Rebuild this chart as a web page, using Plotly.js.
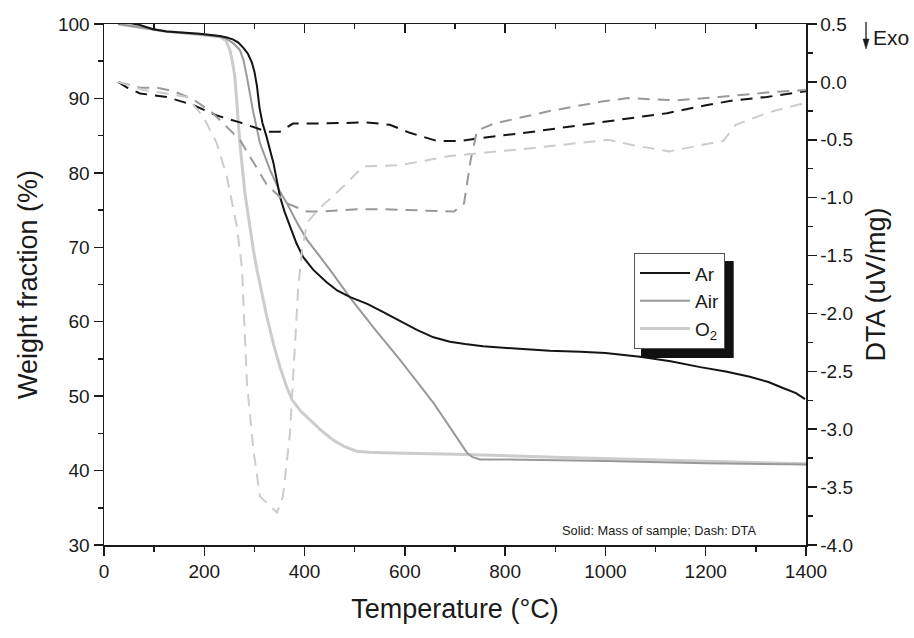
<!DOCTYPE html>
<html>
<head>
<meta charset="utf-8">
<script src="https://cdn.plot.ly/plotly-3.0.1.min.js"></script>
<style>html,body{margin:0;padding:0;background:#fff;}#chart{width:914px;height:638px;}</style>
</head>
<body>
<div id="chart"></div>
<script>
// ---- Data ----
const seriesNames = ["Ar", "Air", "O<sub>2</sub>"];

// Solid: mass of sample (weight fraction %)
const arMassT = [28, 46, 70, 98, 125, 191, 231, 245, 258, 268, 278, 287, 295, 300, 305, 310, 316, 324, 338, 351, 360, 371, 384, 397, 417, 444, 465, 491, 525, 557, 590, 624, 657, 690, 720, 756, 820, 889, 950, 1000, 1069, 1130, 1189, 1240, 1288, 1325, 1354, 1380, 1398];
const arMassW = [100.1, 100.2, 99.9, 99.3, 99.0, 98.7, 98.4, 98.2, 97.9, 97.5, 96.8, 96.0, 94.8, 93.6, 91.7, 88.8, 86.7, 84.9, 81.3, 76.8, 74.8, 72.7, 70.5, 68.7, 67.0, 65.3, 64.2, 63.3, 62.4, 61.3, 60.1, 58.9, 57.9, 57.3, 57.0, 56.7, 56.4, 56.1, 55.95, 55.8, 55.3, 54.7, 53.9, 53.3, 52.6, 51.9, 51.1, 50.4, 49.6];

const airMassT = [28, 70, 125, 191, 230, 245, 258, 271, 278, 285, 297, 311, 331, 350, 365, 385, 405, 430, 457, 491, 540, 590, 624, 657, 690, 724, 735, 750, 800, 900, 1000, 1200, 1400];
const airMassW = [100.0, 99.6, 99.0, 98.6, 98.3, 98.0, 97.4, 96.5, 95.2, 92.9, 88.4, 84.0, 80.4, 77.6, 75.9, 73.3, 71.0, 68.8, 66.4, 63.2, 59.0, 54.9, 52.0, 49.1, 45.8, 42.4, 41.8, 41.5, 41.5, 41.4, 41.3, 41.0, 40.8];

const o2MassT = [28, 70, 125, 191, 231, 243, 251, 256, 261, 266, 271, 281, 291, 298, 305, 315, 325, 338, 351, 363, 375, 392, 411, 433, 457, 480, 504, 530, 557, 700, 900, 1100, 1400];
const o2MassW = [100.0, 99.6, 99.0, 98.6, 98.3, 97.8, 96.5, 95.0, 92.9, 88.5, 84.0, 77.3, 72.7, 69.6, 67.0, 63.7, 60.6, 57.0, 53.9, 51.5, 49.5, 48.0, 46.8, 45.4, 44.1, 43.2, 42.6, 42.45, 42.4, 42.2, 41.8, 41.4, 40.9];

// Dash: DTA (uV/mg)
const arDtaT = [28, 46, 72, 125, 178, 225, 271, 325, 351, 377, 424, 524, 570, 610, 664, 710, 744, 856, 989, 1123, 1203, 1255, 1322, 1400];
const arDtaV = [0.0, -0.05, -0.10, -0.13, -0.20, -0.29, -0.35, -0.43, -0.43, -0.36, -0.36, -0.35, -0.37, -0.44, -0.51, -0.51, -0.49, -0.43, -0.35, -0.27, -0.20, -0.16, -0.13, -0.08];

const airDtaT = [28, 72, 106, 138, 178, 217, 271, 325, 365, 405, 431, 505, 557, 677, 698, 718, 731, 744, 778, 891, 993, 1045, 1140, 1226, 1328, 1400];
const airDtaV = [0.0, -0.05, -0.05, -0.08, -0.15, -0.27, -0.50, -0.89, -1.05, -1.12, -1.12, -1.10, -1.10, -1.12, -1.12, -1.05, -0.68, -0.42, -0.36, -0.25, -0.17, -0.14, -0.16, -0.13, -0.09, -0.07];

const o2DtaT = [28, 78, 125, 165, 198, 225, 245, 265, 275, 285, 298, 311, 345, 357, 371, 381, 387, 395, 405, 425, 471, 517, 590, 690, 858, 1005, 1059, 1127, 1235, 1260, 1328, 1400];
const o2DtaV = [0.0, -0.07, -0.10, -0.13, -0.30, -0.53, -0.82, -1.25, -1.60, -2.60, -3.18, -3.58, -3.72, -3.58, -3.03, -2.32, -1.80, -1.45, -1.22, -1.11, -0.93, -0.73, -0.72, -0.64, -0.57, -0.50, -0.55, -0.60, -0.51, -0.37, -0.26, -0.18];

const xTickVals = [0, 200, 400, 600, 800, 1000, 1200, 1400];
const yTickVals = [30, 40, 50, 60, 70, 80, 90, 100];
const y2TickVals = [-4.0, -3.5, -3.0, -2.5, -2.0, -1.5, -1.0, -0.5, 0.0, 0.5];
const y2TickText = ["-4.0", "-3.5", "-3.0", "-2.5", "-2.0", "-1.5", "-1.0", "-0.5", "0.0", "0.5"];

// ---- Styles ----
const FONT = "Liberation Sans, Arial, Helvetica, sans-serif";
const INK = "#1a1a1a";
const cAr = "#141414", cAir = "#999999", cO2 = "#cccccc";
const dashPat = "12px,8px";

const traces = [
  {x: arDtaT, y: arDtaV, xaxis: "x2", yaxis: "y2", mode: "lines", showlegend: false, hoverinfo: "skip",
   line: {color: cAr, width: 2, dash: dashPat}},
  {x: airDtaT, y: airDtaV, xaxis: "x2", yaxis: "y2", mode: "lines", showlegend: false, hoverinfo: "skip",
   line: {color: cAir, width: 2, dash: dashPat}},
  {x: o2DtaT, y: o2DtaV, xaxis: "x2", yaxis: "y2", mode: "lines", showlegend: false, hoverinfo: "skip",
   line: {color: cO2, width: 2, dash: dashPat}},
  {x: o2MassT, y: o2MassW, name: seriesNames[2], mode: "lines", line: {color: cO2, width: 3}},
  {x: airMassT, y: airMassW, name: seriesNames[1], mode: "lines", line: {color: cAir, width: 2}},
  {x: arMassT, y: arMassW, name: seriesNames[0], mode: "lines", line: {color: cAr, width: 2}}
];

const axisCommon = {
  showgrid: false, zeroline: false, showline: true, linecolor: INK, linewidth: 1.5,
  tickcolor: INK, tickwidth: 1.5, ticklen: 9,
  tickfont: {family: FONT, size: 19, color: INK}
};
const minorOut = {ticks: "outside", ticklen: 5, tickcolor: INK, tickwidth: 1.5};

const layout = {
  width: 914, height: 638,
  margin: {l: 104, r: 108, t: 24, b: 93},
  paper_bgcolor: "#ffffff", plot_bgcolor: "#ffffff",
  font: {family: FONT, color: INK},
  xaxis: Object.assign({}, axisCommon, {
    range: [0, 1400], tickvals: xTickVals, ticks: "outside",
    minor: Object.assign({dtick: 100}, minorOut),
    title: {text: "Temperature (°C)", font: {family: FONT, size: 27, color: INK}, standoff: 18}
  }),
  xaxis2: Object.assign({}, axisCommon, {
    range: [0, 1400], overlaying: "x", side: "top", anchor: "y", tickvals: xTickVals, ticks: "inside",
    showticklabels: false,
    minor: {dtick: 100, ticks: "inside", ticklen: 5, tickcolor: INK, tickwidth: 1.5}
  }),
  yaxis: Object.assign({}, axisCommon, {
    range: [30, 100], tickvals: yTickVals, ticks: "outside",
    minor: Object.assign({dtick: 5}, minorOut),
    title: {text: "Weight fraction (%)", font: {family: FONT, size: 27, color: INK}, standoff: 12}
  }),
  yaxis2: Object.assign({}, axisCommon, {
    range: [-4.0, 0.5], overlaying: "y", side: "right", anchor: "x2", tickvals: y2TickVals,
    ticktext: y2TickText, ticks: "outside",
    minor: Object.assign({dtick: 0.25}, minorOut),
    title: {text: "DTA (uV/mg)", font: {family: FONT, size: 27, color: INK}, standoff: 14}
  }),
  showlegend: true,
  legend: {
    x: 0.755, y: 0.560, xanchor: "left", yanchor: "top",
    bgcolor: "#ffffff", bordercolor: "#555555", borderwidth: 1,
    font: {family: FONT, size: 19, color: INK},
    traceorder: "reversed", itemwidth: 50, tracegroupgap: 0
  },
  shapes: [
    {type: "rect", xref: "paper", yref: "paper", x0: 0.765, x1: 0.897, y0: 0.359, y1: 0.545,
     fillcolor: "#111111", line: {width: 0}, layer: "above"},
    {type: "line", xref: "paper", yref: "paper", x0: 1.0855, x1: 1.0855, y0: 0.9635, y1: 1.004,
     line: {color: INK, width: 1.3}},
    {type: "path", xref: "paper", yref: "paper",
     path: "M 1.0812 0.9712 L 1.0898 0.9712 L 1.0855 0.9520 Z",
     fillcolor: INK, line: {color: INK, width: 0.5}}
  ],
  annotations: [
    {xref: "paper", yref: "paper", x: 0.932, y: 0.027, xanchor: "right", yanchor: "middle",
     text: "Solid: Mass of sample; Dash: DTA", showarrow: false,
     font: {family: FONT, size: 12.8, color: INK}},
    {xref: "paper", yref: "paper", x: 1.093, y: 0.975, xanchor: "left", yanchor: "middle",
     text: "Exo", showarrow: false, font: {family: FONT, size: 21, color: INK}}
  ]
};

Plotly.newPlot("chart", traces, layout, {displayModeBar: false, staticPlot: true});
</script>
</body>
</html>
